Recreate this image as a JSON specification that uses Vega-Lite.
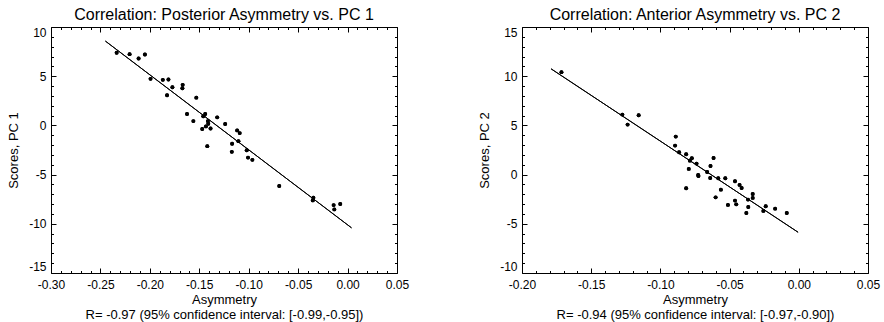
{
  "$schema": "https://vega.github.io/schema/vega-lite/v6.json",
  "padding": {"left": 7, "top": 6, "right": 2, "bottom": 1},
  "background": "white",
  "config": {
    "font": "Liberation Sans",
    "view": {"stroke": "black", "strokeWidth": 1},
    "axis": {"domain": false, "ticks": true, "tickColor": "#000000", "tickWidth": 1, "tickOpacity": 1, "labelColor": "black", "titleColor": "black", "labelFont": "Liberation Sans", "titleFont": "Liberation Sans", "labelFontSize": 12, "titleFontSize": 13, "titleFontWeight": "normal", "grid": false, "labelOverlap": false, "labelFlush": false, "minExtent": 0},
    "axisX": {"minExtent": 0, "labelFlush": false},
    "axisY": {"minExtent": 0},
    "title": {"font": "Liberation Sans", "fontSize": 16, "fontWeight": "normal", "color": "black", "anchor": "middle", "offset": 3}
  },
  "datasets": {
    "post": [
      {"asym": -0.2336, "score": 7.38}, {"asym": -0.2205, "score": 7.24}, {"asym": -0.2114, "score": 6.80}, {"asym": -0.2050, "score": 7.21},
      {"asym": -0.1993, "score": 4.73}, {"asym": -0.1869, "score": 4.63}, {"asym": -0.1812, "score": 4.66}, {"asym": -0.1826, "score": 3.06},
      {"asym": -0.1772, "score": 3.88}, {"asym": -0.1668, "score": 4.12}, {"asym": -0.1671, "score": 3.78}, {"asym": -0.1530, "score": 2.82},
      {"asym": -0.1624, "score": 1.16}, {"asym": -0.1560, "score": 0.44}, {"asym": -0.1470, "score": -0.37}, {"asym": -0.1460, "score": 0.92},
      {"asym": -0.1440, "score": 1.16}, {"asym": -0.1433, "score": -0.10}, {"asym": -0.1413, "score": 0.44}, {"asym": -0.1409, "score": 0.17},
      {"asym": -0.1386, "score": -0.31}, {"asym": -0.1419, "score": -2.11}, {"asym": -0.1319, "score": 0.82}, {"asym": -0.1238, "score": 0.14},
      {"asym": -0.1117, "score": -0.51}, {"asym": -0.1091, "score": -0.78}, {"asym": -0.1104, "score": -1.60}, {"asym": -0.1168, "score": -1.87},
      {"asym": -0.1171, "score": -2.69}, {"asym": -0.1020, "score": -2.52}, {"asym": -0.1007, "score": -3.27}, {"asym": -0.0963, "score": -3.50},
      {"asym": -0.0691, "score": -6.16}, {"asym": -0.0346, "score": -7.35}, {"asym": -0.0352, "score": -7.62}, {"asym": -0.0141, "score": -8.10},
      {"asym": -0.0134, "score": -8.54}, {"asym": -0.0074, "score": -7.99}
    ],
    "postfit": [{"asym": -0.245, "score": 8.57}, {"asym": 0.004, "score": -10.41}],
    "ant": [
      {"asym": -0.1715, "score": 10.41}, {"asym": -0.1275, "score": 6.10}, {"asym": -0.1237, "score": 5.08}, {"asym": -0.1157, "score": 6.03},
      {"asym": -0.0889, "score": 3.86}, {"asym": -0.0894, "score": 2.95}, {"asym": -0.0865, "score": 2.27}, {"asym": -0.0814, "score": 2.07},
      {"asym": -0.0795, "score": 0.58}, {"asym": -0.0814, "score": -1.39}, {"asym": -0.0787, "score": 1.42}, {"asym": -0.0773, "score": 1.66},
      {"asym": -0.0739, "score": 1.12}, {"asym": -0.0727, "score": -0.03}, {"asym": -0.0725, "score": -0.14}, {"asym": -0.0662, "score": 0.27},
      {"asym": -0.0638, "score": 0.88}, {"asym": -0.0616, "score": 1.69}, {"asym": -0.0640, "score": -0.34}, {"asym": -0.0582, "score": -0.37},
      {"asym": -0.0601, "score": -2.31}, {"asym": -0.0563, "score": -1.53}, {"asym": -0.0531, "score": -0.37}, {"asym": -0.0512, "score": -3.08},
      {"asym": -0.0461, "score": -0.68}, {"asym": -0.0461, "score": -2.64}, {"asym": -0.0452, "score": -3.02}, {"asym": -0.0428, "score": -1.05},
      {"asym": -0.0413, "score": -1.36}, {"asym": -0.0379, "score": -3.90}, {"asym": -0.0367, "score": -2.54}, {"asym": -0.0365, "score": -3.29},
      {"asym": -0.0333, "score": -1.97}, {"asym": -0.0333, "score": -2.37}, {"asym": -0.0256, "score": -3.69}, {"asym": -0.0239, "score": -3.22},
      {"asym": -0.0171, "score": -3.46}, {"asym": -0.0087, "score": -3.90}
    ],
    "antfit": [{"asym": -0.179, "score": 10.75}, {"asym": -0.0005, "score": -5.86}]
  },
  "hconcat": [
    {
      "width": 346, "height": 246,
      "title": {"text": "Correlation: Posterior Asymmetry vs. PC 1"},
      "resolve": {"axis": {"x": "independent", "y": "independent"}},
      "layer": [
        {
          "data": {"name": "post"},
          "mark": {"type": "circle", "size": 15, "color": "black", "opacity": 1},
          "encoding": {
            "x": {"field": "asym", "type": "quantitative", "scale": {"domain": [-0.3, 0.05], "nice": false, "zero": false},
              "axis": {"orient": "bottom", "values": [-0.3, -0.25, -0.2, -0.15, -0.1, -0.05, 0, 0.05], "offset": -5, "tickSize": 5, "labelPadding": 6, "labelFlush": false, "labelExpr": "replace(format(datum.value, '.2f'), '\u2212', '-')", "title": ["Asymmetry", "R= -0.97 (95% confidence interval: [-0.99,-0.95])"], "titlePadding": 3, "titleLineHeight": 15}},
            "y": {"field": "score", "type": "quantitative", "scale": {"domain": [-15, 10], "nice": false, "zero": false},
              "axis": {"orient": "left", "values": [-15, -10, -5, 0, 5, 10], "offset": -5, "tickSize": 5, "labelPadding": 5, "labelFlush": true, "labelExpr": "replace(format(datum.value, 'd'), '\u2212', '-')", "title": "Scores, PC 1", "titlePadding": 8}}
          }
        },
        {
          "data": {"name": "postfit"},
          "mark": {"type": "line", "color": "black", "strokeWidth": 1},
          "encoding": {
            "x": {"field": "asym", "type": "quantitative", "axis": {"orient": "top", "values": [-0.3, -0.25, -0.2, -0.15, -0.1, -0.05, 0, 0.05], "offset": -5, "tickSize": 5, "labels": false, "title": null}},
            "y": {"field": "score", "type": "quantitative", "axis": {"orient": "right", "values": [-15, -10, -5, 0, 5, 10], "offset": -5, "tickSize": 5, "labels": false, "title": null}}
          }
        },
        {
          "data": {"name": "post"},
          "mark": {"type": "circle", "size": 15, "color": "black", "opacity": 1},
          "encoding": {
            "x": {"field": "asym", "type": "quantitative", "axis": {"orient": "bottom", "values": [-0.29, -0.28, -0.27, -0.26, -0.24, -0.23, -0.22, -0.21, -0.19, -0.18, -0.17, -0.16, -0.14, -0.13, -0.12, -0.11, -0.09, -0.08, -0.07, -0.06, -0.04, -0.03, -0.02, -0.01, 0.01, 0.02, 0.03, 0.04], "offset": -2.5, "tickSize": 2.5, "labels": false, "title": null}},
            "y": {"field": "score", "type": "quantitative", "axis": {"orient": "left", "values": [-14, -13, -12, -11, -9, -8, -7, -6, -4, -3, -2, -1, 1, 2, 3, 4, 6, 7, 8, 9], "offset": -2.5, "tickSize": 2.5, "labels": false, "title": null}}
          }
        },
        {
          "data": {"name": "postfit"},
          "mark": {"type": "line", "color": "black", "strokeWidth": 1},
          "encoding": {
            "x": {"field": "asym", "type": "quantitative", "axis": {"orient": "top", "values": [-0.29, -0.28, -0.27, -0.26, -0.24, -0.23, -0.22, -0.21, -0.19, -0.18, -0.17, -0.16, -0.14, -0.13, -0.12, -0.11, -0.09, -0.08, -0.07, -0.06, -0.04, -0.03, -0.02, -0.01, 0.01, 0.02, 0.03, 0.04], "offset": -2.5, "tickSize": 2.5, "labels": false, "title": null}},
            "y": {"field": "score", "type": "quantitative", "axis": {"orient": "right", "values": [-14, -13, -12, -11, -9, -8, -7, -6, -4, -3, -2, -1, 1, 2, 3, 4, 6, 7, 8, 9], "offset": -2.5, "tickSize": 2.5, "labels": false, "title": null}}
          }
        }
      ]
    },
    {
      "width": 346, "height": 246,
      "title": {"text": "Correlation: Anterior Asymmetry vs. PC 2"},
      "resolve": {"axis": {"x": "independent", "y": "independent"}},
      "layer": [
        {
          "data": {"name": "ant"},
          "mark": {"type": "circle", "size": 15, "color": "black", "opacity": 1},
          "encoding": {
            "x": {"field": "asym", "type": "quantitative", "scale": {"domain": [-0.2, 0.05], "nice": false, "zero": false},
              "axis": {"orient": "bottom", "values": [-0.2, -0.15, -0.1, -0.05, 0, 0.05], "offset": -5, "tickSize": 5, "labelPadding": 6, "labelFlush": false, "labelExpr": "replace(format(datum.value, '.2f'), '\u2212', '-')", "title": ["Asymmetry", "R= -0.94 (95% confidence interval: [-0.97,-0.90])"], "titlePadding": 3, "titleLineHeight": 15}},
            "y": {"field": "score", "type": "quantitative", "scale": {"domain": [-10, 15], "nice": false, "zero": false},
              "axis": {"orient": "left", "values": [-10, -5, 0, 5, 10, 15], "offset": -5, "tickSize": 5, "labelPadding": 5, "labelFlush": true, "labelExpr": "replace(format(datum.value, 'd'), '\u2212', '-')", "title": "Scores, PC 2", "titlePadding": 8}}
          }
        },
        {
          "data": {"name": "antfit"},
          "mark": {"type": "line", "color": "black", "strokeWidth": 1},
          "encoding": {
            "x": {"field": "asym", "type": "quantitative", "axis": {"orient": "top", "values": [-0.2, -0.15, -0.1, -0.05, 0, 0.05], "offset": -5, "tickSize": 5, "labels": false, "title": null}},
            "y": {"field": "score", "type": "quantitative", "axis": {"orient": "right", "values": [-10, -5, 0, 5, 10, 15], "offset": -5, "tickSize": 5, "labels": false, "title": null}}
          }
        },
        {
          "data": {"name": "ant"},
          "mark": {"type": "circle", "size": 15, "color": "black", "opacity": 1},
          "encoding": {
            "x": {"field": "asym", "type": "quantitative", "axis": {"orient": "bottom", "values": [-0.19, -0.18, -0.17, -0.16, -0.14, -0.13, -0.12, -0.11, -0.09, -0.08, -0.07, -0.06, -0.04, -0.03, -0.02, -0.01, 0.01, 0.02, 0.03, 0.04], "offset": -2.5, "tickSize": 2.5, "labels": false, "title": null}},
            "y": {"field": "score", "type": "quantitative", "axis": {"orient": "left", "values": [-9, -8, -7, -6, -4, -3, -2, -1, 1, 2, 3, 4, 6, 7, 8, 9, 11, 12, 13, 14], "offset": -2.5, "tickSize": 2.5, "labels": false, "title": null}}
          }
        },
        {
          "data": {"name": "antfit"},
          "mark": {"type": "line", "color": "black", "strokeWidth": 1},
          "encoding": {
            "x": {"field": "asym", "type": "quantitative", "axis": {"orient": "top", "values": [-0.19, -0.18, -0.17, -0.16, -0.14, -0.13, -0.12, -0.11, -0.09, -0.08, -0.07, -0.06, -0.04, -0.03, -0.02, -0.01, 0.01, 0.02, 0.03, 0.04], "offset": -2.5, "tickSize": 2.5, "labels": false, "title": null}},
            "y": {"field": "score", "type": "quantitative", "axis": {"orient": "right", "values": [-9, -8, -7, -6, -4, -3, -2, -1, 1, 2, 3, 4, 6, 7, 8, 9, 11, 12, 13, 14], "offset": -2.5, "tickSize": 2.5, "labels": false, "title": null}}
          }
        }
      ]
    }
  ],
  "spacing": 68
}
